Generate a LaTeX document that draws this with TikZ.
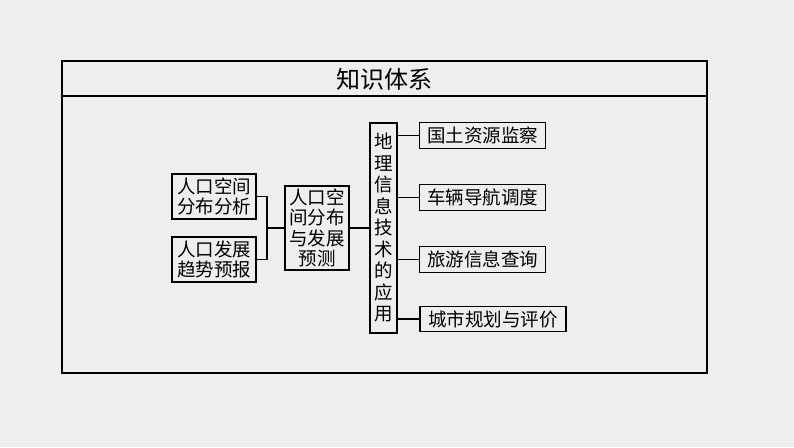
\documentclass[tikz,border=0pt]{standalone}
\usepackage{fontspec}
\newfontfamily\cjk{Noto Sans CJK SC}
\definecolor{paper}{HTML}{EEEEEE}
\tikzset{
  box/.style={draw=black, line width=1.3pt, fill=paper, inner sep=0pt, align=center,
    font=\cjk\fontsize{18.5pt}{20.5pt}\selectfont},
  link/.style={draw=black, line width=1.3pt},
}
\begin{document}
\begin{tikzpicture}[x=1pt,y=-1pt]
\fill[paper] (0,0) rectangle (794,447);
\useasboundingbox (0,0) rectangle (794,447);
% outer frame
\draw[line width=1.8pt] (62,61) rectangle (707,373);
\draw[line width=1.4pt] (62,96) -- (707,96);
\node[font=\cjk\fontsize{24pt}{26pt}\selectfont] (title) at (384.5,79) {知识体系};
% left boxes
\node[box, minimum width=84pt, minimum height=45pt] (a) at (214,196.5) {人口空间\\分布分析};
\node[box, minimum width=84pt, minimum height=45pt] (b) at (214,259.5) {人口发展\\趋势预报};
\node[box, minimum width=64pt, minimum height=84pt] (c) at (317,228) {人口空\\间分布\\与发展\\预测};
\node[box, minimum width=27pt, minimum height=210pt, font=\cjk\fontsize{18.5pt}{21.5pt}\selectfont] (d) at (383.5,228) {地\\理\\信\\息\\技\\术\\的\\应\\用};
% right boxes
\node[box, minimum width=126pt, minimum height=26pt] (e1) at (482.5,135.5) {国土资源监察};
\node[box, minimum width=126pt, minimum height=26pt] (e2) at (482.5,197.5) {车辆导航调度};
\node[box, minimum width=126pt, minimum height=26pt] (e3) at (482.5,259.5) {旅游信息查询};
\node[box, minimum width=146pt, minimum height=25pt] (e4) at (493,319) {城市规划与评价};
% connectors
\coordinate (j) at (267,228);
\draw[link] (a.east) -| (j) |- (b.east);
\draw[link] (j) -- (c.west);
\draw[link] (c.east) -- (d.west);
\draw[link] (d.east |- e1.west) -- (e1.west);
\draw[link] (d.east |- e2.west) -- (e2.west);
\draw[link] (d.east |- e3.west) -- (e3.west);
\draw[link] (d.east |- e4.west) -- (e4.west);
\end{tikzpicture}
\end{document}
